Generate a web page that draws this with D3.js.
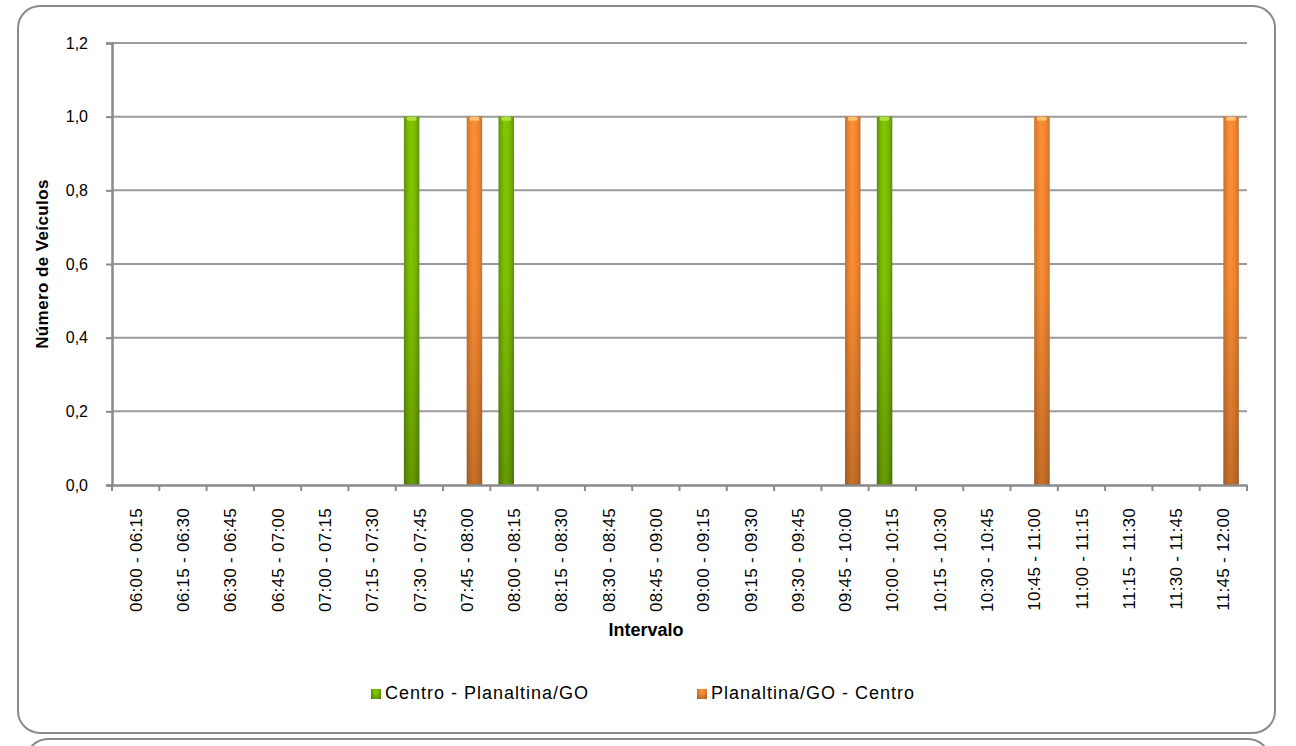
<!DOCTYPE html>
<html>
<head>
<meta charset="utf-8">
<script src="https://cdn.jsdelivr.net/npm/d3@7"></script>
<style>
  html, body { margin: 0; padding: 0; background: #fff; }
  svg { display: block; }
  text { font-family: "Century Gothic", "Liberation Sans", Arial, sans-serif; fill: #000; }
</style>
</head>
<body>
<svg id="chart" width="1296" height="746"></svg>
<script>
const categories = ["06:00 - 06:15","06:15 - 06:30","06:30 - 06:45","06:45 - 07:00","07:00 - 07:15","07:15 - 07:30","07:30 - 07:45","07:45 - 08:00","08:00 - 08:15","08:15 - 08:30","08:30 - 08:45","08:45 - 09:00","09:00 - 09:15","09:15 - 09:30","09:30 - 09:45","09:45 - 10:00","10:00 - 10:15","10:15 - 10:30","10:30 - 10:45","10:45 - 11:00","11:00 - 11:15","11:15 - 11:30","11:30 - 11:45","11:45 - 12:00"];
const seriesNames = ["Centro - Planaltina/GO", "Planaltina/GO - Centro"];
const centroPlanaltina = [0,0,0,0,0,0,1,0,1,0,0,0,0,0,0,0,1,0,0,0,0,0,0,0];
const planaltinaCentro = [0,0,0,0,0,0,0,1,0,0,0,0,0,0,0,1,0,0,0,1,0,0,0,1];
const yTicks = [0, 0.2, 0.4, 0.6, 0.8, 1.0, 1.2];
const yTitle = "Número de Veículos";
const xTitle = "Intervalo";

const svg = d3.select("#chart");
const plot = {left: 112, right: 1247, top: 43, bottom: 485};
const chartCenter = 646;

// frames
svg.append("rect").attr("x", 26).attr("y", 739).attr("width", 1244).attr("height", 60)
  .attr("rx", 22).attr("fill", "#fff").attr("stroke", "#8a8a8a").attr("stroke-width", 2);
svg.append("rect").attr("x", 18).attr("y", 6).attr("width", 1257).attr("height", 727)
  .attr("rx", 22).attr("fill", "#fff").attr("stroke", "#8a8a8a").attr("stroke-width", 2);

const defs = svg.append("defs");
function hGrad(id, edge, mid, light) {
  const g = defs.append("linearGradient").attr("id", id).attr("x1", 0).attr("x2", 1).attr("y1", 0).attr("y2", 0);
  g.append("stop").attr("offset", "0%").attr("stop-color", edge);
  g.append("stop").attr("offset", "25%").attr("stop-color", mid);
  g.append("stop").attr("offset", "45%").attr("stop-color", light);
  g.append("stop").attr("offset", "75%").attr("stop-color", mid);
  g.append("stop").attr("offset", "100%").attr("stop-color", edge);
}
hGrad("gGreen", "#5f8f14", "#78b800", "#84c800");
hGrad("gOrange", "#c0763a", "#f4842a", "#fb9038");
const vg = defs.append("linearGradient").attr("id", "shade").attr("x1", 0).attr("x2", 0).attr("y1", 0).attr("y2", 1);
vg.append("stop").attr("offset", "0%").attr("stop-color", "#000").attr("stop-opacity", 0);
vg.append("stop").attr("offset", "45%").attr("stop-color", "#000").attr("stop-opacity", 0.02);
vg.append("stop").attr("offset", "100%").attr("stop-color", "#000").attr("stop-opacity", 0.22);

const x = d3.scaleBand().domain(categories).range([plot.left, plot.right]).paddingInner(0).paddingOuter(0);
const x1 = d3.scaleBand().domain(seriesNames).range([0, x.bandwidth()]).paddingInner(0).paddingOuter(0.526);
const y = d3.scaleLinear().domain([0, 1.2]).range([plot.bottom, plot.top]);

// gridlines
svg.append("g").selectAll("line").data(yTicks.filter(d => d > 0)).join("line")
  .attr("x1", plot.left).attr("x2", plot.right)
  .attr("y1", d => y(d)).attr("y2", d => y(d))
  .attr("stroke", "#9a9a9a").attr("stroke-width", 2);

// y axis
const yAxis = svg.append("g").attr("transform", `translate(${plot.left},0)`)
  .call(d3.axisLeft(y).tickValues(yTicks).tickSize(6).tickPadding(18)
    .tickFormat(d => d3.format(".1f")(d).replace(".", ",")));
yAxis.select(".domain").attr("stroke", "#8a8a8a").attr("stroke-width", 2.5);
yAxis.selectAll(".tick line").attr("stroke", "#8a8a8a").attr("stroke-width", 2);
yAxis.selectAll(".tick text").attr("font-size", 16).attr("fill", "#000")
  .attr("font-family", "'Century Gothic','Liberation Sans',Arial,sans-serif");

// bars
const data = categories.map((c, i) => ({cat: c, vals: [
  {s: seriesNames[0], v: centroPlanaltina[i], fill: "url(#gGreen)", cap: "#b0e040"},
  {s: seriesNames[1], v: planaltinaCentro[i], fill: "url(#gOrange)", cap: "#ffc070"}
]}));
const groups = svg.append("g").selectAll("g").data(data).join("g")
  .attr("transform", d => `translate(${x(d.cat)},0)`);
const bars = groups.selectAll("g").data(d => d.vals.filter(v => v.v > 0)).join("g");
bars.append("rect").attr("x", d => x1(d.s)).attr("width", x1.bandwidth())
  .attr("y", d => y(d.v)).attr("height", d => y(0) - y(d.v)).attr("fill", d => d.fill);
bars.append("rect").attr("x", d => x1(d.s)).attr("width", x1.bandwidth())
  .attr("y", d => y(d.v)).attr("height", d => y(0) - y(d.v)).attr("fill", "url(#shade)");
bars.append("rect").attr("x", d => x1(d.s) + 3).attr("width", x1.bandwidth() - 6)
  .attr("y", d => y(d.v)).attr("height", 4).attr("rx", 1.5).attr("fill", d => d.cap);

// x axis
const xAxis = svg.append("g").attr("transform", `translate(0,${plot.bottom})`)
  .call(d3.axisBottom(x).tickSize(0).tickFormat(""));
xAxis.select(".domain").attr("stroke", "#8a8a8a").attr("stroke-width", 2.5);
xAxis.selectAll(".tick").remove();
const bounds = categories.map(c => x(c)).concat([plot.right]);
xAxis.selectAll("line.b").data(bounds).join("line").attr("class", "b")
  .attr("x1", d => d).attr("x2", d => d).attr("y1", 0).attr("y2", 6)
  .attr("stroke", "#8a8a8a").attr("stroke-width", 2);
svg.append("g").selectAll("text").data(categories).join("text")
  .attr("transform", d => `translate(${x(d) + x.bandwidth() / 2},508) rotate(-90)`)
  .attr("text-anchor", "end").attr("dy", "0.36em").attr("font-size", 17)
  .attr("letter-spacing", 0.3)
  .text(d => d);

// axis titles
svg.append("text").attr("transform", `translate(42,${(plot.top + plot.bottom) / 2}) rotate(-90)`)
  .attr("text-anchor", "middle").attr("dy", "0.36em").attr("font-weight", "bold").attr("font-size", 17)
  .attr("letter-spacing", 0.4)
  .text(yTitle);
svg.append("text").attr("x", chartCenter).attr("y", 636)
  .attr("text-anchor", "middle").attr("font-weight", "bold").attr("font-size", 18)
  .text(xTitle);

// legend
const legendX = [371, 697];
const legendFill = ["url(#gGreen)", "url(#gOrange)"];
const lg = svg.append("g").selectAll("g").data(seriesNames).join("g")
  .attr("transform", (d, i) => `translate(${legendX[i]},689)`);
lg.append("rect").attr("width", 10).attr("height", 10).attr("fill", (d, i) => legendFill[i]);
lg.append("rect").attr("width", 10).attr("height", 10).attr("fill", "url(#shade)");
lg.append("text").attr("x", 14).attr("y", 9.5).attr("font-size", 18).attr("letter-spacing", 1)
  .text(d => d);
</script>
</body>
</html>
